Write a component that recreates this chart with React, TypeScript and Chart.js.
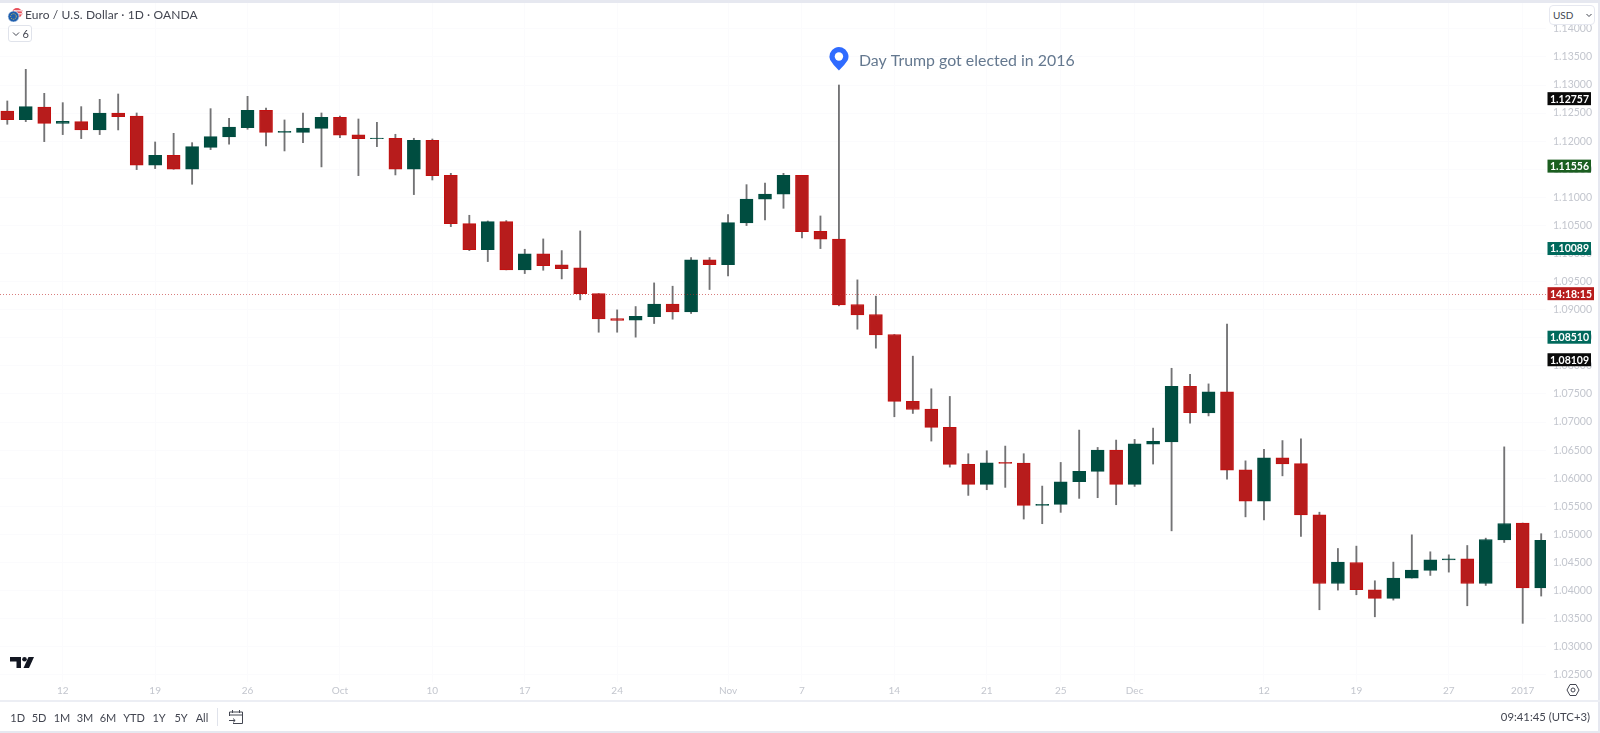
import React, { useEffect, useRef } from "react";
import { Chart, registerables } from "chart.js";

Chart.register(...registerables);

const opens = [1.12538,1.12384,1.12609,1.12318,1.12348,1.122,1.12502,1.12449,1.11571,1.11749,1.115,1.11891,1.12075,1.12241,1.1255,1.12158,1.12158,1.12229,1.12425,1.12111,1.12046,1.12052,1.115,1.12015,1.11393,1.10533,1.1007,1.10568,1.09708,1.09993,1.09797,1.09744,1.09287,1.08843,1.08813,1.08878,1.09098,1.08961,1.09886,1.09803,1.10545,1.10966,1.11055,1.11393,1.10396,1.10255,1.09092,1.08914,1.08559,1.07367,1.0723,1.06904,1.06246,1.0589,1.06281,1.0627,1.05516,1.05534,1.05937,1.06121,1.06501,1.0589,1.06608,1.06647,1.07637,1.07163,1.07536,1.06149,1.05591,1.06362,1.06261,1.05348,1.04126,1.045,1.04014,1.0386,1.04221,1.04358,1.04547,1.04565,1.04126,1.04903,1.05202,1.04045];
const closes = [1.12384,1.12615,1.12318,1.12354,1.122,1.12502,1.12437,1.11571,1.11749,1.115,1.11903,1.12081,1.12253,1.1255,1.12158,1.12176,1.12235,1.12425,1.12105,1.12046,1.12057,1.115,1.12016,1.11387,1.10533,1.1007,1.10568,1.09708,1.09993,1.09785,1.09732,1.09287,1.08837,1.08807,1.08884,1.09098,1.08961,1.09886,1.09803,1.1055,1.10971,1.1106,1.11393,1.1039,1.10254,1.09086,1.08908,1.08553,1.07367,1.07224,1.06904,1.06246,1.0589,1.06276,1.06264,1.05516,1.05534,1.05937,1.06121,1.06501,1.0589,1.06614,1.06655,1.07637,1.07169,1.07536,1.06143,1.05591,1.06362,1.06255,1.05348,1.04126,1.04506,1.04014,1.0386,1.04221,1.04364,1.04547,1.04565,1.04126,1.04909,1.05194,1.04045,1.04893];
const highs = [1.12716,1.13279,1.12852,1.12686,1.12615,1.12745,1.1284,1.12502,1.11986,1.1214,1.11974,1.12579,1.12407,1.12799,1.12591,1.12378,1.12502,1.12502,1.12449,1.12395,1.12336,1.12123,1.12052,1.12039,1.11428,1.10681,1.1058,1.10586,1.10076,1.1026,1.10052,1.10402,1.09287,1.08997,1.09056,1.09477,1.09418,1.09928,1.09928,1.10693,1.11226,1.11256,1.11428,1.11393,1.10669,1.13,1.09531,1.09241,1.08559,1.08173,1.07592,1.07456,1.06436,1.06489,1.06572,1.06436,1.0586,1.06281,1.06857,1.06548,1.06679,1.06691,1.06892,1.07957,1.07851,1.07679,1.08746,1.06309,1.06516,1.0667,1.067,1.05395,1.04749,1.04791,1.04174,1.04506,1.04992,1.0469,1.04636,1.04802,1.04933,1.06558,1.05202,1.05012];
const lows = [1.12301,1.12348,1.11992,1.12117,1.12046,1.12117,1.122,1.11494,1.11512,1.115,1.11233,1.1185,1.11945,1.12212,1.11915,1.11826,1.11974,1.11542,1.12063,1.11387,1.11903,1.11399,1.11049,1.11309,1.10479,1.10052,1.09857,1.09708,1.09643,1.09702,1.09548,1.09175,1.08599,1.08599,1.08511,1.08754,1.08831,1.08932,1.09359,1.09602,1.10497,1.10598,1.10805,1.10278,1.10088,1.09069,1.08653,1.08315,1.07094,1.07153,1.06661,1.06198,1.05694,1.05795,1.05837,1.05273,1.0519,1.05392,1.05641,1.05653,1.05528,1.05854,1.06252,1.05063,1.06979,1.07109,1.05983,1.05312,1.05259,1.06042,1.04963,1.03658,1.04008,1.03925,1.03533,1.0383,1.04221,1.04269,1.04328,1.03729,1.04091,1.04856,1.03416,1.03902];

const priceTicks = [1.025,1.03,1.035,1.04,1.045,1.05,1.055,1.06,1.065,1.07,1.075,1.08,1.085,1.09,1.095,1.1,1.105,1.11,1.115,1.12,1.125,1.13,1.135,1.14];
const timeTickIndex = [3,8,13,18,23,28,33,39,43,48,53,57,61,68,73,78,82];
const timeTickLabels = ["12","19","26","Oct","10","17","24","Nov","7","14","21","25","Dec","12","19","27","2017"];

const tagValues = [1.12757,1.11556,1.10089,1.0851,1.08109];
const tagTexts = ["1.12757","1.11556","1.10089","1.08510","1.08109"];
const tagColors = ["#0a0a0a","#1b5e20","#00695c","#00695c","#0a0a0a"];
const countdownValue = 1.09285;
const countdownText = "14:18:15";
const annotationIndex = 45;
const annotationValue = 1.13;
const annotationText = "Day Trump got elected in 2016";

const rangeButtons = ["1D","5D","1M","3M","6M","YTD","1Y","5Y","All"];
const rangeCenters = [17.7,39,62,85,108,134,159,181,202];

const FONT = "Lato, 'Noto Sans', sans-serif";
const UP = "#004d40";
const DOWN = "#b71c1c";

const overlayPlugin = {
  id: "overlay",
  afterDraw(chart: any) {
    const { ctx, scales, chartArea } = chart;
    const y = scales.y, x = scales.x;
    ctx.save();
    const ly = Math.round(y.getPixelForValue(countdownValue)) + 0.5;
    ctx.strokeStyle = "rgba(190,40,40,0.6)";
    ctx.setLineDash([1, 2]);
    ctx.lineWidth = 1;
    ctx.beginPath();
    ctx.moveTo(chartArea.left, ly);
    ctx.lineTo(chartArea.right + 1, ly);
    ctx.stroke();
    ctx.setLineDash([]);

    ctx.font = `bold 10.5px ${FONT}`;
    ctx.textBaseline = "middle";
    ctx.textAlign = "center";
    tagValues.forEach((v, i) => {
      const py = y.getPixelForValue(v);
      ctx.fillStyle = tagColors[i];
      ctx.fillRect(1547.5, py - 6.5, 43.5, 13);
      ctx.fillStyle = "#ffffff";
      ctx.fillText(tagTexts[i], 1569.5, py + 0.5);
    });
    const cy = y.getPixelForValue(countdownValue);
    ctx.fillStyle = "#b71c1c";
    ctx.fillRect(1547.5, cy - 6.5, 46.5, 13);
    ctx.fillStyle = "#ffffff";
    ctx.fillText(countdownText, 1571, cy + 0.5);

    const ax = x.getPixelForValue(annotationIndex);
    const ay = y.getPixelForValue(annotationValue) - 14.5;
    ctx.fillStyle = "#2f6bff";
    ctx.beginPath();
    ctx.arc(ax, ay - 14, 9.5, Math.PI * 0.86, Math.PI * 0.14);
    ctx.quadraticCurveTo(ax + 5.5, ay - 5, ax, ay);
    ctx.quadraticCurveTo(ax - 5.5, ay - 5, ax - 9.05, ay - 11.1);
    ctx.fill();
    ctx.fillStyle = "#ffffff";
    ctx.beginPath();
    ctx.arc(ax, ay - 14, 4.2, 0, Math.PI * 2);
    ctx.fill();
    ctx.fillStyle = "#64788f";
    ctx.font = `15.9px ${FONT}`;
    ctx.textAlign = "left";
    ctx.fillText(annotationText, ax + 20, ay - 9.5);
    ctx.restore();
  },
};

const abs = (s: React.CSSProperties): React.CSSProperties => ({ position: "absolute", ...s });

export default function App() {
  const ref = useRef<HTMLCanvasElement | null>(null);
  useEffect(() => {
    const chart = new Chart(ref.current as HTMLCanvasElement, {
      type: "bar",
      data: {
        datasets: [
          {
            label: "Body",
            data: opens.map((o, i) => ({ x: i, y: [o, closes[i]] })),
            backgroundColor: opens.map((o, i) => (closes[i] >= o ? UP : DOWN)),
            borderColor: opens.map((o, i) => (closes[i] >= o ? UP : "#c40f0f")),
            borderWidth: 1,
            borderSkipped: false,
            barThickness: 13,
          },
          {
            label: "Wick",
            data: highs.map((h, i) => ({ x: i, y: [lows[i], h] })),
            backgroundColor: "#737375",
            barThickness: 1.2,
            borderWidth: 0,
          },
        ] as any,
      },
      options: {
        animation: false,
        responsive: false,
        devicePixelRatio: 1,
        layout: { padding: { top: 3 } },
        datasets: { bar: { grouped: false } },
        plugins: { legend: { display: false }, tooltip: { enabled: false } },
        scales: {
          x: {
            type: "linear",
            offset: false,
            min: -0.395,
            max: 83.26,
            afterFit: (s: any) => { s.height = 51; s.paddingLeft = 0; s.paddingRight = 0; },
            afterBuildTicks: (s: any) => { s.ticks = timeTickIndex.map((v) => ({ value: v })); },
            grid: { color: "#fbfbfd", drawTicks: false, offset: false },
            border: { display: false },
            ticks: {
              autoSkip: false,
              maxRotation: 0,
              padding: 3,
              color: "#c3c6ce",
              font: { family: FONT, size: 10 },
              callback: (v: any) => timeTickLabels[timeTickIndex.indexOf(Number(v))],
            },
          },
          y: {
            type: "linear",
            position: "right",
            min: 1.02372,
            max: 1.1446,
            afterFit: (s: any) => { s.width = 54; s.paddingTop = 0; s.paddingBottom = 0; },
            afterBuildTicks: (s: any) => { s.ticks = priceTicks.map((v) => ({ value: v })); },
            grid: { color: "#fbfbfd", drawTicks: false },
            border: { display: false },
            ticks: {
              padding: 7,
              color: "#c3c6ce",
              font: { family: FONT, size: 10.5 },
              callback: (v: any) => Number(v).toFixed(5),
            },
          },
        },
      } as any,
      plugins: [overlayPlugin as any],
    });
    return () => chart.destroy();
  }, []);

  return (
    <div style={{ position: "fixed", left: 0, top: 0, width: 1600, height: 733, background: "#fff", overflow: "hidden", fontFamily: FONT }}>
      <canvas ref={ref} width={1600} height={733} style={{ position: "absolute", left: 0, top: 0, width: 1600, height: 733 }} />
      <div style={abs({ left: 0, top: 0, width: 1600, height: 3, background: "#e6e8f0" })} />
      <div style={abs({ left: 1598, top: 0, width: 2, height: 733, background: "#e6e8f0" })} />
      <div style={abs({ left: 0, top: 700, width: 1600, height: 2, background: "#eceef4" })} />
      <div style={abs({ left: 0, top: 731, width: 1600, height: 2, background: "#e6e8f0" })} />

      <svg width="16" height="16" viewBox="0 0 16 16" style={abs({ left: 7, top: 7 })}>
        <circle cx="10" cy="6" r="5" fill="#e8505b" />
        <rect x="7" y="3" width="9" height="1.5" fill="#f6c9cd" />
        <rect x="7" y="6" width="9" height="1.5" fill="#f6c9cd" />
        <circle cx="6.5" cy="9.5" r="5.6" fill="#1f5fae" stroke="#fff" strokeWidth="0.7" />
        <circle cx="6.5" cy="9.5" r="2.8" fill="none" stroke="#e9c84a" strokeWidth="1" strokeDasharray="1 1" />
      </svg>
      <div style={abs({ left: 25, top: 7, fontSize: 12, lineHeight: "16px", color: "#434651", whiteSpace: "nowrap", letterSpacing: 0.1 })}>Euro / U.S. Dollar · 1D · OANDA</div>

      <div style={abs({ left: 8, top: 25, width: 24, height: 17, boxSizing: "border-box", border: "1px solid #e0e3eb", borderRadius: 3, background: "#fff" })} />
      <svg width="8" height="6" viewBox="0 0 8 6" style={abs({ left: 12, top: 31 })}><path d="M1 1.5 L4 4.5 L7 1.5" fill="none" stroke="#434651" strokeWidth="1" /></svg>
      <div style={abs({ left: 22.5, top: 26, fontSize: 11, lineHeight: "15px", color: "#434651" })}>6</div>

      <div style={abs({ left: 1549, top: 5, width: 46, height: 20, boxSizing: "border-box", border: "1px solid #e6e8f0", borderRadius: 4, background: "#fff" })} />
      <div style={abs({ left: 1553, top: 7.5, fontSize: 10, lineHeight: "15px", color: "#434651" })}>USD</div>
      <svg width="6" height="5" viewBox="0 0 6 5" style={abs({ left: 1586, top: 13 })}><path d="M0.5 1 L3 3.5 L5.5 1" fill="none" stroke="#434651" strokeWidth="1" /></svg>

      <svg width="24" height="12" viewBox="0 0 24 12" style={abs({ left: 9.5, top: 656.5 })}>
        <path d="M0 0H11V11H6.5V4.5H0Z" fill="#131722" />
        <circle cx="14.5" cy="2.3" r="2.3" fill="#131722" />
        <path d="M18.5 0H24L19 11H13.5Z" fill="#131722" />
      </svg>

      {rangeButtons.map((b, i) => (
        <div key={b} style={abs({ left: rangeCenters[i] - 15, width: 30, textAlign: "center", top: 710, fontSize: 11, lineHeight: "16px", color: "#434651" })}>{b}</div>
      ))}
      <div style={abs({ left: 217, top: 708, width: 1, height: 18, background: "#e0e3eb" })} />
      <svg width="16" height="16" viewBox="0 0 16 16" style={abs({ left: 228, top: 708.5 })}>
        <path d="M1.5 7V3H14.5V14.5H5M1.5 6H14.5M4.5 1V4M11.5 1V4M1 11.5H7M5 9.5L7.2 11.5L5 13.5" fill="none" stroke="#434651" strokeWidth="1" />
      </svg>
      <div style={abs({ right: 10, top: 709, fontSize: 11.3, lineHeight: "16px", color: "#434651", whiteSpace: "nowrap" })}>09:41:45 (UTC+3)</div>
      <svg width="14" height="14" viewBox="0 0 14 14" style={abs({ left: 1566, top: 683 })}>
        <path d="M4 1.5H10L13 7L10 12.5H4L1 7Z" fill="none" stroke="#434651" strokeWidth="1" />
        <circle cx="7" cy="7" r="2" fill="none" stroke="#434651" strokeWidth="1" />
      </svg>
    </div>
  );
}
